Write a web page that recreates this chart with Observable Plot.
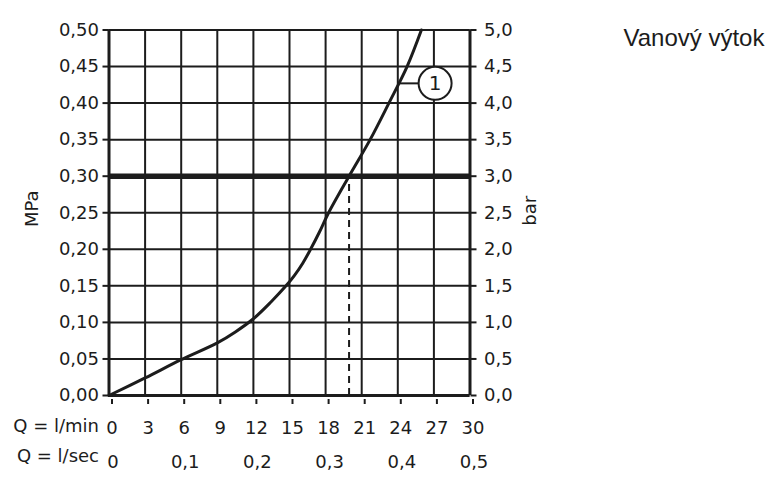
<!DOCTYPE html>
<html><head><meta charset="utf-8">
<script src="https://cdn.jsdelivr.net/npm/d3@7"></script>
<script src="https://cdn.jsdelivr.net/npm/@observablehq/plot@0.6"></script>
<style>body{margin:0;background:#fff}</style>
</head><body><div id="chart"></div>
<script>
// Curve 1 (Vanový výtok): flow in l/min vs pressure in MPa
const flowLmin    = [0, 3, 6, 9, 10.5, 12, 13.46, 14.71, 15.4, 16.1, 16.75, 17.5, 18.25, 19.95, 21.7, 23.26, 24.77, 25.96];
const pressureMPa = [0, 0.024, 0.049, 0.072, 0.087, 0.105, 0.128, 0.15, 0.164, 0.181, 0.20, 0.224, 0.25, 0.30, 0.35, 0.40, 0.45, 0.50];

// tick values / labels
const lminTicks  = [0, 3, 6, 9, 12, 15, 18, 21, 24, 27, 30];
const lsecTicks  = [0, 6, 12, 18, 24, 30];
const lsecLabels = ["0", "0,1", "0,2", "0,3", "0,4", "0,5"];
const mpaTicks   = [0, 0.05, 0.10, 0.15, 0.20, 0.25, 0.30, 0.35, 0.40, 0.45, 0.50];
const mpaLabels  = ["0,00","0,05","0,10","0,15","0,20","0,25","0,30","0,35","0,40","0,45","0,50"];
const barLabels  = ["0,0","0,5","1,0","1,5","2,0","2,5","3,0","3,5","4,0","4,5","5,0"];

// reference lines
const limitMPa = [0.30];
const limitFlow = [19.95];

// callout "1"
const callout = [{from: 24.05, to: 25.7, center: 27.1, p: 0.427, label: "1"}];

const title = "Vanový výtok";

const curve = flowLmin.map((q, i) => ({q, p: pressureMPa[i]}));
const ink = "#1c1c1c";

const chart = Plot.plot({
  width: 778, height: 495,
  marginLeft: 108.5, marginRight: 308.5, marginTop: 29.5, marginBottom: 100,
  x: {domain: [0, 30]},
  y: {domain: [0, 0.5]},
  style: {fontFamily: "DejaVu Sans", fontSize: "18px", color: ink, background: "white"},
  marks: [
    Plot.ruleX(lminTicks, {stroke: ink, strokeWidth: 2}),
    Plot.ruleY(mpaTicks, {stroke: ink, strokeWidth: 2}),
    Plot.ruleX([0, 30], {stroke: ink, strokeWidth: 3}),
    Plot.ruleY([0], {stroke: ink, strokeWidth: 3}),
    Plot.ruleY(limitMPa, {stroke: ink, strokeWidth: 5.5}),
    Plot.ruleX(limitFlow, {y1: 0, y2: limitMPa[0], stroke: ink, strokeWidth: 2, strokeDasharray: "7,5"}),
    Plot.line(curve, {x: "q", y: "p", curve: "catmull-rom", stroke: ink, strokeWidth: 3}),
    Plot.link(callout, {x1: "from", x2: "to", y1: "p", y2: "p", stroke: ink, strokeWidth: 2}),
    Plot.dot(callout, {x: "center", y: "p", r: 16.5, fill: "white", stroke: ink, strokeWidth: 2}),
    Plot.text(callout, {x: "center", y: "p", text: "label", fontSize: 20}),
    Plot.axisY(mpaTicks, {anchor: "left", tickSize: 6, tickPadding: 4, strokeWidth: 2,
      tickFormat: d => mpaLabels[mpaTicks.indexOf(d)], label: null}),
    Plot.axisY(mpaTicks, {anchor: "right", tickSize: 6, tickPadding: 8, strokeWidth: 2,
      tickFormat: d => barLabels[mpaTicks.indexOf(d)], label: null}),
    Plot.axisX(lminTicks, {anchor: "bottom", tickSize: 5, tickPadding: 17, strokeWidth: 2,
      tickFormat: d => String(d), label: null, dx: 3, dy: 4}),
    Plot.axisX(lsecTicks, {anchor: "bottom", tickSize: 0, tickPadding: 55,
      tickFormat: d => lsecLabels[lsecTicks.indexOf(d)], label: null, dx: 4, dy: 5}),
    Plot.text(["Q = l/min"], {frameAnchor: "bottom-left", textAnchor: "end", dx: -10, dy: 36, text: d => d}),
    Plot.text(["Q = l/sec"], {frameAnchor: "bottom-left", textAnchor: "end", dx: -10, dy: 66, text: d => d}),
    Plot.text(["MPa"], {frameAnchor: "left", textAnchor: "middle", rotate: -90, dx: -77, dy: -4, text: d => d}),
    Plot.text(["bar"], {frameAnchor: "right", textAnchor: "middle", rotate: -90, dx: 60, dy: -2, text: d => d}),
    Plot.text([title], {frameAnchor: "top-right", textAnchor: "start", dx: 153.5, dy: -1,
      fontFamily: "Liberation Sans", fontSize: 24, text: d => d})
  ]
});
document.getElementById("chart").appendChild(chart);
</script>
</body></html>
